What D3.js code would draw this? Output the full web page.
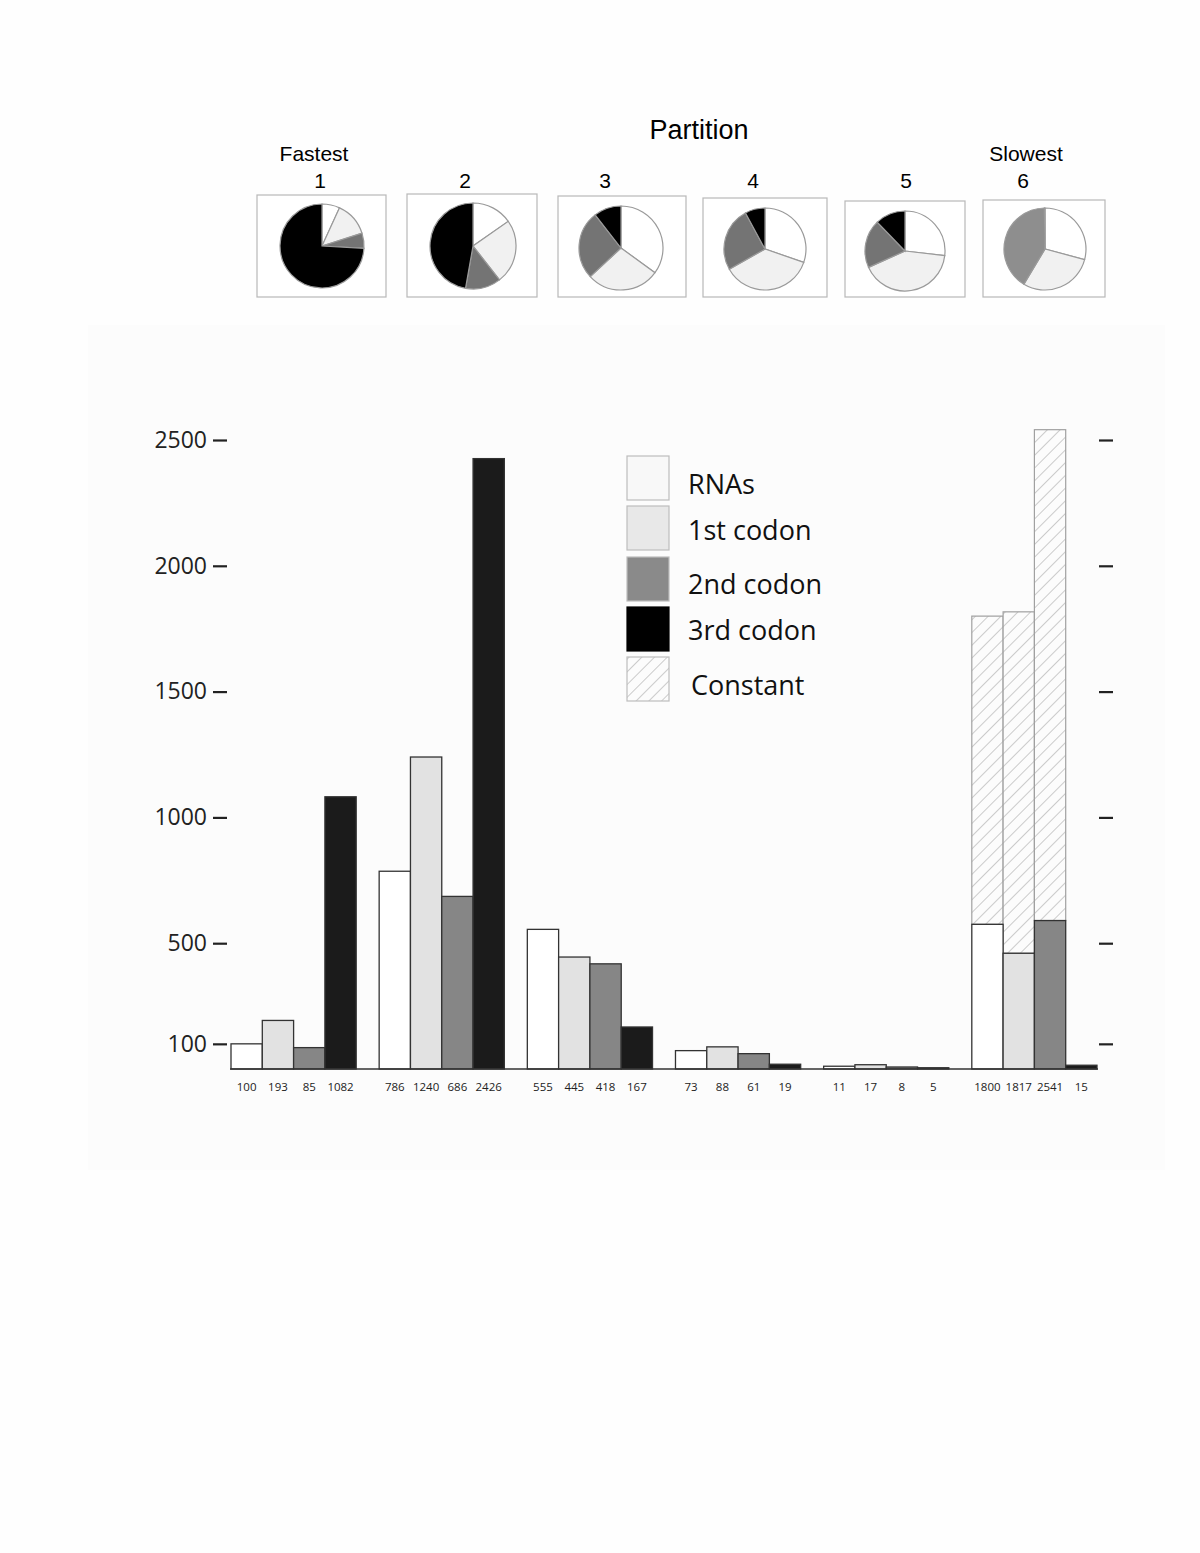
<!DOCTYPE html>
<html>
<head>
<meta charset="utf-8">
<script src="https://cdn.jsdelivr.net/npm/d3@7"></script>
<style>
  body { margin: 0; background: #fefefe; }
  svg { display: block; }
</style>
</head>
<body>
<div class="chart"></div>
<script>
// ----------------------------------------------------------------------
// Data
// ----------------------------------------------------------------------

const partitions = ["1", "2", "3", "4", "5", "6"];
const categories = ["RNAs", "1st codon", "2nd codon", "3rd codon"];

// sites per partition, one array per category
const rnas   = [100, 786, 555, 73, 11, 1800];
const codon1 = [193, 1240, 445, 88, 17, 1817];
const codon2 = [85, 686, 418, 61, 8, 2541];
const codon3 = [1082, 2426, 167, 19, 5, 15];

// in the slowest partition most sites are constant: variable part
const variableSlowest = [575, 460, 590, 15];

const yTicks = [100, 500, 1000, 1500, 2000, 2500];
const pieLabels = ["Fastest", "", "", "", "", "Slowest"];

const WIDTH = 1200;
const HEIGHT = 1553;

const barColors = ["#ffffff", "#e2e2e2", "#868686", "#1b1b1b"];
const pieColors = ["#ffffff", "#f1f1f1", "#747474", "#000000"];
const legendColors = ["#f8f8f8", "#e8e8e8", "#8a8a8a", "#000000"];

const series = [rnas, codon1, codon2, codon3];

// ----------------------------------------------------------------------
// Layout
// ----------------------------------------------------------------------

const svg = d3.select(".chart")
  .append("svg")
  .attr("width", WIDTH)
  .attr("height", HEIGHT);

const defs = svg.append("defs");
const hatch = defs.append("pattern")
  .attr("id", "hatch")
  .attr("patternUnits", "userSpaceOnUse")
  .attr("width", 9)
  .attr("height", 9)
  .attr("patternTransform", "rotate(45)");
hatch.append("rect").attr("width", 9).attr("height", 9).attr("fill", "#fcfcfc");
hatch.append("line")
  .attr("x1", 0).attr("y1", 0).attr("x2", 0).attr("y2", 9)
  .attr("stroke", "#b0b0b0").attr("stroke-width", 1.3);

// ---- top: pies per partition ----

const pieG = svg.append("g").attr("class", "pies")
  .style("font-family", "'Liberation Sans', Arial, sans-serif");

pieG.append("text")
  .attr("x", 699).attr("y", 139)
  .attr("text-anchor", "middle")
  .attr("font-size", 27)
  .text("Partition");

// boxes around each pie (left, top, right, bottom)
const boxes = [
  [257, 195, 386, 297],
  [407, 194, 537, 297],
  [558, 196, 686, 297],
  [703, 198, 827, 297],
  [845, 201, 965, 297],
  [983, 200, 1105, 297]
];
const pieCenters = [[322, 246, 42], [473, 246, 43], [621, 248, 42], [765, 249, 41], [905, 251, 40], [1045, 249, 41]];
const numberX = [320, 465, 605, 753, 906, 1023];
const wordX = [314, 0, 0, 0, 0, 1026];

const pie = d3.pie().sort(null).value(d => d);
const arc = d3.arc().innerRadius(0);

partitions.forEach((p, i) => {
  const b = boxes[i];
  pieG.append("rect")
    .attr("x", b[0]).attr("y", b[1])
    .attr("width", b[2] - b[0]).attr("height", b[3] - b[1])
    .attr("fill", "#ffffff")
    .attr("stroke", "#b8b8b8")
    .attr("stroke-width", 1.2);

  pieG.append("text")
    .attr("x", numberX[i]).attr("y", 188)
    .attr("text-anchor", "middle")
    .attr("font-size", 21)
    .text(p);

  if (pieLabels[i]) {
    pieG.append("text")
      .attr("x", wordX[i]).attr("y", 161)
      .attr("text-anchor", "middle")
      .attr("font-size", 21)
      .text(pieLabels[i]);
  }

  const c = pieCenters[i];
  const values = series.map(s => s[i]);
  pieG.append("g")
    .attr("transform", `translate(${c[0]},${c[1]})`)
    .selectAll("path")
    .data(pie(values))
    .join("path")
    .attr("d", d => arc.outerRadius(c[2])(d))
    .attr("fill", (d, j) => (i === 5 && j === 2) ? "#8e8e8e" : pieColors[j])
    .attr("stroke", "#9a9a9a")
    .attr("stroke-width", 1.2);
});

// ---- bar chart ----

svg.append("rect")
  .attr("x", 88).attr("y", 325)
  .attr("width", 1077).attr("height", 845)
  .attr("fill", "#fcfcfc");

const chart = svg.append("g").attr("class", "bars")
  .style("font-family", "'Open Sans', sans-serif");

const yScale = d3.scaleLinear().domain([0, 2500]).range([1069, 440]);
const xGroup = d3.scaleBand().domain(partitions).range([231, 1097]).paddingInner(0.155);
const xInner = d3.scaleBand().domain(categories).range([0, xGroup.bandwidth()]);

// left axis: labels plus short dashes
const leftAxis = chart.append("g")
  .attr("transform", "translate(227,0)")
  .call(d3.axisLeft(yScale).tickValues(yTicks).tickSize(14).tickPadding(6).tickFormat(d3.format("d")));
leftAxis.select(".domain").remove();
leftAxis.selectAll(".tick line").attr("stroke", "#222").attr("stroke-width", 2.2);
leftAxis.selectAll(".tick text")
  .attr("font-size", 23)
  .attr("fill", "#222")
  .attr("font-family", "'Open Sans', sans-serif");

// right axis: dashes only
const rightAxis = chart.append("g")
  .attr("transform", "translate(1099,0)")
  .call(d3.axisRight(yScale).tickValues(yTicks).tickSize(14).tickFormat(""));
rightAxis.select(".domain").remove();
rightAxis.selectAll(".tick line").attr("stroke", "#222").attr("stroke-width", 2.2);

// build one record per bar
const bars = [];
partitions.forEach((p, i) => {
  categories.forEach((c, j) => {
    const total = series[j][i];
    const variable = i === 5 ? variableSlowest[j] : total;
    bars.push({ partition: p, category: c, index: j, total: total, variable: variable });
  });
});

const barG = chart.append("g");

// constant (hatched) part, only in the slowest partition
barG.selectAll("rect.constant")
  .data(bars.filter(d => d.total > d.variable))
  .join("rect")
  .attr("class", "constant")
  .attr("x", d => xGroup(d.partition) + xInner(d.category))
  .attr("width", xInner.bandwidth())
  .attr("y", d => yScale(d.total))
  .attr("height", d => yScale(d.variable) - yScale(d.total))
  .attr("fill", "url(#hatch)")
  .attr("stroke", "#a0a0a0")
  .attr("stroke-width", 1.2);

barG.selectAll("rect.variable")
  .data(bars)
  .join("rect")
  .attr("class", "variable")
  .attr("x", d => xGroup(d.partition) + xInner(d.category))
  .attr("width", xInner.bandwidth())
  .attr("y", d => yScale(d.variable))
  .attr("height", d => yScale(0) - yScale(d.variable))
  .attr("fill", d => barColors[d.index])
  .attr("stroke", "#333")
  .attr("stroke-width", 1.3);

// baseline
chart.append("line")
  .attr("x1", 230).attr("x2", 1098)
  .attr("y1", yScale(0)).attr("y2", yScale(0))
  .attr("stroke", "#333").attr("stroke-width", 1.5);

// value labels under each bar
chart.append("g").selectAll("text")
  .data(bars)
  .join("text")
  .attr("x", d => xGroup(d.partition) + xInner(d.category) + xInner.bandwidth() / 2)
  .attr("y", 1091)
  .attr("text-anchor", "middle")
  .attr("font-size", 11.5)
  .attr("fill", "#222")
  .text(d => d.total);

// legend
const legendItems = categories.concat(["Constant"]);
const legendY = [456, 506, 557, 607, 657];
const legendTextY = [494, 540, 594, 640, 695];
const legend = chart.append("g");
legendItems.forEach((name, i) => {
  legend.append("rect")
    .attr("x", 627).attr("y", legendY[i])
    .attr("width", 42).attr("height", 44)
    .attr("fill", i < 4 ? legendColors[i] : "url(#hatch)")
    .attr("stroke", i === 3 ? "#000" : "#bdbdbd")
    .attr("stroke-width", 1.2);
  legend.append("text")
    .attr("x", i === 4 ? 691 : 688)
    .attr("y", legendTextY[i])
    .attr("font-size", 27)
    .attr("fill", "#111")
    .text(name);
});
</script>
</body>
</html>
